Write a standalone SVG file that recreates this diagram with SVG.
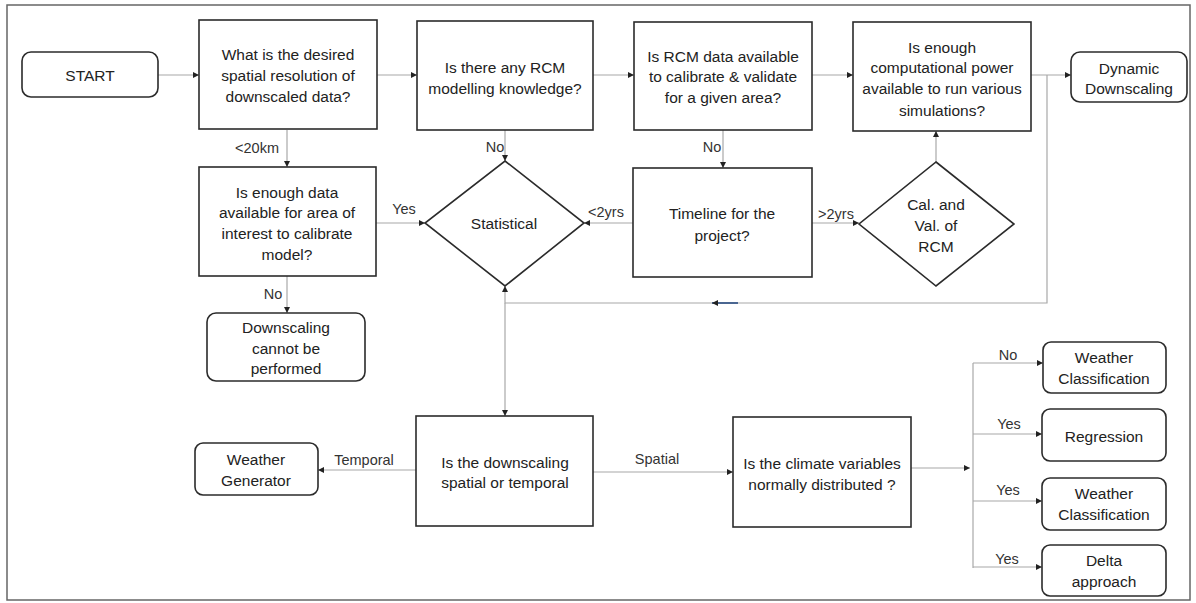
<svg xmlns="http://www.w3.org/2000/svg" width="1196" height="603" viewBox="0 0 1196 603">
<style>
.box{fill:#fff;stroke:#2b2b2b;stroke-width:1.6}
.rbox{fill:#fff;stroke:#2b2b2b;stroke-width:1.6}
.t{font-family:"Liberation Sans",Arial,sans-serif;font-size:15.5px;fill:#222;text-anchor:middle;dominant-baseline:central}
.lbl{font-family:"Liberation Sans",Arial,sans-serif;font-size:14.5px;fill:#333;text-anchor:middle;dominant-baseline:central}
.c{fill:none;stroke:#a8a8a8;stroke-width:1.2}
</style>
<defs>
<marker id="ah" viewBox="0 0 10 10" refX="10" refY="5" markerWidth="6" markerHeight="6" markerUnits="userSpaceOnUse" orient="auto">
<path d="M0,0 L10,5 L0,10 z" fill="#222"/>
</marker>
</defs>
<rect x="7" y="5" width="1183" height="595" fill="#fff" stroke="#666" stroke-width="1.5"/>

<g id="connectors">
<line class="c" x1="158" y1="75" x2="199" y2="75" marker-end="url(#ah)"/>
<line class="c" x1="377" y1="75" x2="417" y2="75" marker-end="url(#ah)"/>
<line class="c" x1="593" y1="75" x2="634" y2="75" marker-end="url(#ah)"/>
<line class="c" x1="812" y1="75" x2="853" y2="75" marker-end="url(#ah)"/>
<line class="c" x1="1031" y1="75" x2="1071" y2="75" marker-end="url(#ah)"/>
<line class="c" x1="287" y1="130" x2="287" y2="167" marker-end="url(#ah)"/>
<line class="c" x1="505" y1="130" x2="505" y2="161" marker-end="url(#ah)"/>
<line class="c" x1="723" y1="130" x2="723" y2="168" marker-end="url(#ah)"/>
<line class="c" x1="376" y1="223" x2="425" y2="223" marker-end="url(#ah)"/>
<line class="c" x1="633" y1="223" x2="584" y2="223" marker-end="url(#ah)"/>
<line class="c" x1="812" y1="223" x2="859" y2="223" marker-end="url(#ah)"/>
<line class="c" x1="936" y1="162" x2="936" y2="131" marker-end="url(#ah)"/>
<polyline class="c" points="1047,75 1047,303 505,303 505,286" marker-end="url(#ah)"/>
<line x1="738" y1="303" x2="712" y2="303" stroke="#3a5a8a" stroke-width="1.8" marker-end="url(#ah)"/>
<line class="c" x1="505" y1="303" x2="505" y2="416" marker-end="url(#ah)"/>
<line class="c" x1="287" y1="276" x2="287" y2="313" marker-end="url(#ah)"/>
<line class="c" x1="416" y1="470" x2="318" y2="470" marker-end="url(#ah)"/>
<line class="c" x1="593" y1="472" x2="733" y2="472" marker-end="url(#ah)"/>
<line class="c" x1="911" y1="468" x2="970" y2="468" marker-end="url(#ah)"/>
<line class="c" x1="973" y1="363" x2="973" y2="568"/>
<line class="c" x1="973" y1="363" x2="1043" y2="363" marker-end="url(#ah)"/>
<line class="c" x1="973" y1="434" x2="1042" y2="434" marker-end="url(#ah)"/>
<line class="c" x1="973" y1="501" x2="1042" y2="501" marker-end="url(#ah)"/>
<line class="c" x1="973" y1="567" x2="1042" y2="567" marker-end="url(#ah)"/>
<text class="lbl" x="257" y="148">&lt;20km</text>
<text class="lbl" x="495" y="147">No</text>
<text class="lbl" x="712" y="147">No</text>
<text class="lbl" x="404" y="209">Yes</text>
<text class="lbl" x="606" y="212">&lt;2yrs</text>
<text class="lbl" x="836" y="214">&gt;2yrs</text>
<text class="lbl" x="273" y="294">No</text>
<text class="lbl" x="364" y="460">Temporal</text>
<text class="lbl" x="657" y="459">Spatial</text>
<text class="lbl" x="1008" y="355">No</text>
<text class="lbl" x="1009" y="424">Yes</text>
<text class="lbl" x="1008" y="490">Yes</text>
<text class="lbl" x="1007" y="559">Yes</text>
</g>

<g id="start">
<rect class="rbox" x="22" y="52" width="136" height="45" rx="9"/>
<text class="t" x="90" y="75">START</text>
</g>
<g id="q-resolution">
<rect class="box" x="199" y="20" width="178" height="109"/>
<text class="t" x="288" y="54">What is the desired</text>
<text class="t" x="288" y="75">spatial resolution of</text>
<text class="t" x="288" y="96">downscaled data?</text>
</g>
<g id="q-rcm-knowledge">
<rect class="box" x="417" y="21" width="176" height="109"/>
<text class="t" x="505" y="67">Is there any RCM</text>
<text class="t" x="505" y="88">modelling knowledge?</text>
</g>
<g id="q-rcm-data">
<rect class="box" x="634" y="22" width="178" height="108"/>
<text class="t" x="723" y="56">Is RCM data available</text>
<text class="t" x="723" y="76">to calibrate &amp; validate</text>
<text class="t" x="723" y="97">for a given area?</text>
</g>
<g id="q-computational">
<rect class="box" x="853" y="22" width="178" height="109"/>
<text class="t" x="942" y="47">Is enough</text>
<text class="t" x="942" y="67">computational power</text>
<text class="t" x="942" y="88">available to run various</text>
<text class="t" x="942" y="110">simulations?</text>
</g>
<g id="dynamic-downscaling">
<rect class="rbox" x="1071" y="52" width="116" height="50" rx="9"/>
<text class="t" x="1129" y="68">Dynamic</text>
<text class="t" x="1129" y="88">Downscaling</text>
</g>
<g id="q-enough-data">
<rect class="box" x="199" y="167" width="177" height="109"/>
<text class="t" x="287" y="192">Is enough data</text>
<text class="t" x="287" y="212">available for area of</text>
<text class="t" x="287" y="233">interest to calibrate</text>
<text class="t" x="287" y="254">model?</text>
</g>
<g id="statistical">
<polygon class="box" points="505,161 584,223 505,286 425,223"/>
<text class="t" x="504" y="223">Statistical</text>
</g>
<g id="q-timeline">
<rect class="box" x="633" y="168" width="179" height="109"/>
<text class="t" x="722" y="213">Timeline for the</text>
<text class="t" x="722" y="235">project?</text>
</g>
<g id="cal-val-rcm">
<polygon class="box" points="936,162 1014,224 936,286 859,224"/>
<text class="t" x="936" y="204">Cal. and</text>
<text class="t" x="936" y="225">Val. of</text>
<text class="t" x="936" y="246">RCM</text>
</g>
<g id="cannot-downscale">
<rect class="rbox" x="207" y="313" width="158" height="68" rx="9"/>
<text class="t" x="286" y="327">Downscaling</text>
<text class="t" x="286" y="348">cannot be</text>
<text class="t" x="286" y="368">performed</text>
</g>
<g id="weather-generator">
<rect class="rbox" x="195" y="443" width="123" height="52" rx="8"/>
<text class="t" x="256" y="459">Weather</text>
<text class="t" x="256" y="480">Generator</text>
</g>
<g id="q-spatial-temporal">
<rect class="box" x="416" y="416" width="177" height="110"/>
<text class="t" x="505" y="462">Is the downscaling</text>
<text class="t" x="505" y="482">spatial or temporal</text>
</g>
<g id="q-normal">
<rect class="box" x="733" y="417" width="178" height="110"/>
<text class="t" x="822" y="463">Is the climate variables</text>
<text class="t" x="822" y="484">normally distributed ?</text>
</g>
<g id="weather-classification-1">
<rect class="rbox" x="1043" y="342" width="123" height="51" rx="8"/>
<text class="t" x="1104" y="357">Weather</text>
<text class="t" x="1104" y="378">Classification</text>
</g>
<g id="regression">
<rect class="rbox" x="1042" y="409" width="124" height="52" rx="8"/>
<text class="t" x="1104" y="436">Regression</text>
</g>
<g id="weather-classification-2">
<rect class="rbox" x="1042" y="478" width="124" height="52" rx="8"/>
<text class="t" x="1104" y="493">Weather</text>
<text class="t" x="1104" y="514">Classification</text>
</g>
<g id="delta-approach">
<rect class="rbox" x="1042" y="545" width="124" height="51" rx="8"/>
<text class="t" x="1104" y="560">Delta</text>
<text class="t" x="1104" y="581">approach</text>
</g>
</svg>
